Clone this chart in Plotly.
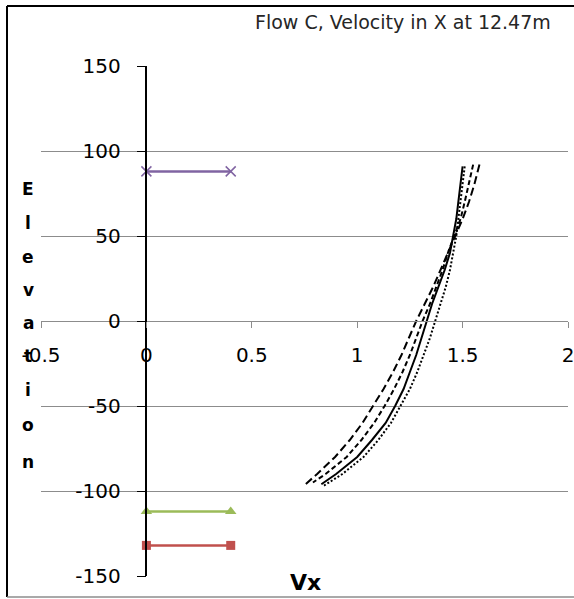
import plotly.graph_objects as go

# ---- data ----
# reference bands: velocity x and elevation
band_x = [0.0, 0.4]
band_top_y = [88, 88]
band_mid_y = [-112, -112]
band_low_y = [-132, -132]

# velocity profiles (elevation vs Vx)
solid_elev = [91, 80, 70, 60, 50, 40, 30, 20, 10, 0, -10, -20, -30, -40, -50, -60, -70, -80, -90, -96]
solid_vx = [1.50, 1.49, 1.48, 1.47, 1.455, 1.44, 1.415, 1.385, 1.355, 1.33, 1.305, 1.28, 1.25, 1.22,
            1.18, 1.135, 1.07, 1.00, 0.90, 0.83]

dot_elev = [91, 80, 70, 60, 50, 40, 30, 20, 10, 0, -10, -20, -30, -40, -50, -60, -70, -80, -90, -97]
dot_vx = [1.51, 1.50, 1.49, 1.48, 1.47, 1.455, 1.44, 1.42, 1.395, 1.37, 1.345, 1.315, 1.285, 1.25,
          1.205, 1.16, 1.10, 1.03, 0.93, 0.84]

dash_elev = [92, 80, 70, 60, 50, 40, 30, 20, 10, 0, -10, -20, -30, -40, -50, -60, -70, -80, -90, -95]
dash_vx = [1.55, 1.53, 1.51, 1.49, 1.46, 1.43, 1.405, 1.375, 1.345, 1.31, 1.28, 1.25, 1.215, 1.175,
           1.13, 1.08, 1.02, 0.95, 0.85, 0.79]

longdash_elev = [92, 80, 70, 60, 50, 40, 30, 20, 10, 0, -10, -20, -30, -40, -50, -60, -70, -80, -90, -96]
longdash_vx = [1.58, 1.555, 1.53, 1.50, 1.465, 1.43, 1.395, 1.36, 1.32, 1.28, 1.245, 1.21, 1.17, 1.125,
               1.075, 1.025, 0.965, 0.895, 0.81, 0.755]

x_ticks = [-0.5, 0, 0.5, 1, 1.5, 2]
y_ticks = [-150, -100, -50, 0, 50, 100, 150]

title_text = "Flow C, Velocity in X at 12.47m"
x_title = "Vx"
y_title = "Elevation"

# ---- page geometry (pixels) ----
W, H = 574, 599
PL, PR, PT, PB = 41, 568, 66, 576  # plot area edges


def px(xp):
    return (xp - PL) / (PR - PL)


def py(yp):
    return (PB - yp) / (PB - PT)


fig = go.Figure()

fig.add_trace(go.Scatter(x=band_x, y=band_top_y, mode="lines+markers",
                         line=dict(color="#8064A2", width=2.5),
                         marker=dict(symbol="x-thin", size=10, line=dict(color="#8064A2", width=1.5))))
fig.add_trace(go.Scatter(x=band_x, y=band_mid_y, mode="lines+markers",
                         line=dict(color="#9BBB59", width=2.5),
                         marker=dict(symbol="triangle-up", size=10, color="#9BBB59")))
fig.add_trace(go.Scatter(x=band_x, y=band_low_y, mode="lines+markers",
                         line=dict(color="#C0504D", width=2.5),
                         marker=dict(symbol="square", size=9, color="#C0504D")))

fig.add_trace(go.Scatter(x=solid_vx, y=solid_elev, mode="lines",
                         line=dict(color="black", width=2, dash="solid")))
fig.add_trace(go.Scatter(x=dot_vx, y=dot_elev, mode="lines",
                         line=dict(color="black", width=2, dash="2px,2px")))
fig.add_trace(go.Scatter(x=dash_vx, y=dash_elev, mode="lines",
                         line=dict(color="black", width=2, dash="5px,3px")))
fig.add_trace(go.Scatter(x=longdash_vx, y=longdash_elev, mode="lines",
                         line=dict(color="black", width=2, dash="8px,4px")))

tick_font = dict(family="DejaVu Sans", size=20, color="black")

fig.update_layout(
    width=W, height=H,
    margin=dict(l=PL, r=W - PR, t=PT, b=H - PB),
    paper_bgcolor="white", plot_bgcolor="white",
    showlegend=False,
    xaxis=dict(range=[-0.5, 2], tickvals=x_ticks, ticktext=[f"{v:g}" for v in x_ticks],
               anchor="free", position=0.5, showgrid=False, zeroline=False,
               showline=True, linecolor="#8c8c8c", linewidth=1,
               ticks="outside", ticklen=6, tickcolor="#8c8c8c", automargin=False,
               ticklabelstandoff=10, ticklabeloverflow="allow", tickfont=tick_font),
    yaxis=dict(range=[-150, 150], tickvals=y_ticks, ticktext=[f"{v:g}" for v in y_ticks],
               anchor="free", position=0.2, showgrid=True, gridcolor="#8c8c8c", gridwidth=1,
               zeroline=False, showline=True, linecolor="black", linewidth=1.5,
               ticks="outside", ticklen=9, tickcolor="black", automargin=False,
               ticklabelstandoff=12, ticklabeloverflow="allow", tickfont=tick_font),
)

# chart frame
fig.add_shape(type="line", xref="paper", yref="paper", x0=px(7), x1=px(W + 5), y0=py(6), y1=py(6),
              line=dict(color="black", width=2))
fig.add_shape(type="line", xref="paper", yref="paper", x0=px(7), x1=px(7), y0=py(6), y1=py(597),
              line=dict(color="black", width=2))
fig.add_shape(type="line", xref="paper", yref="paper", x0=px(7), x1=px(W + 5), y0=py(597), y1=py(597),
              line=dict(color="#8c8c8c", width=1.5))

# title
fig.add_annotation(text=title_text, xref="paper", yref="paper", x=px(553), y=py(22),
                   xanchor="right", yanchor="middle", showarrow=False,
                   font=dict(family="DejaVu Sans", size=19, color="#262626"))

# x-axis title
fig.add_annotation(text=f"<b>{x_title}</b>", xref="paper", yref="paper", x=px(305), y=py(582),
                   xanchor="center", yanchor="middle", showarrow=False,
                   font=dict(family="DejaVu Sans", size=22, color="black"))

# y-axis title, one letter per line
letter_rows = [189, 223, 257, 290, 323, 356, 390, 425, 462]
for ch, yp in zip(y_title, letter_rows):
    fig.add_annotation(text=f"<b>{ch}</b>", xref="paper", yref="paper", x=px(28), y=py(yp),
                       xanchor="center", yanchor="middle", showarrow=False,
                       font=dict(family="DejaVu Sans", size=17, color="black"))

fig.write_html("out.html")
